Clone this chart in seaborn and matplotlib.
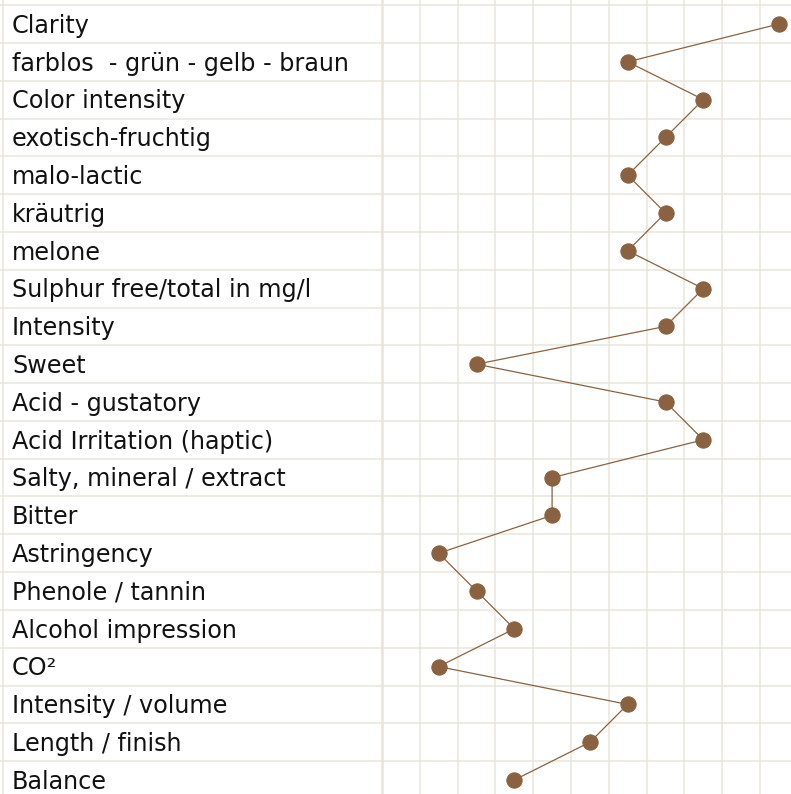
import pandas as pd
import seaborn as sns
import matplotlib
matplotlib.use("Agg")
import matplotlib.pyplot as plt

# tasting profile: attribute names and the scored cell (0 = left-most column)
attributes = [
    "Clarity",
    "farblos  - grün - gelb - braun",
    "Color intensity",
    "exotisch-fruchtig",
    "malo-lactic",
    "kräutrig",
    "melone",
    "Sulphur free/total in mg/l",
    "Intensity",
    "Sweet",
    "Acid - gustatory",
    "Acid Irritation (haptic)",
    "Salty, mineral / extract",
    "Bitter",
    "Astringency",
    "Phenole / tannin",
    "Alcohol impression",
    "CO²",
    "Intensity / volume",
    "Length / finish",
    "Balance",
]
scores = [10, 6, 8, 7, 6, 7, 6, 8, 7, 2, 7, 8, 4, 4, 1, 2, 3, 1, 6, 5, 3]
n_columns = 11

df = pd.DataFrame({"attribute": attributes, "score": scores})
df["row"] = range(len(df))

grid_col = "#e9e5da"
brown = "#8a6240"

sns.set_style("white")
plt.rcParams["font.family"] = ["DejaVu Sans"]

fig = plt.figure(figsize=(7.91, 7.94), dpi=100)
ax = fig.add_axes([0, 0, 1, 1])

# one grid cell = 37.8 px, plot area starts at 382 px
cell = 37.8
left = -382 / cell - 0.5

# table / grid lines
for i in range(len(attributes) + 1):
    ax.axhline(i - 0.5, color=grid_col, lw=1.1, zorder=0)
for k in range(1, n_columns + 1):
    ax.axvline(k - 0.5, color=grid_col, lw=1.1, zorder=0)
ax.axvline(-0.5, color=grid_col, lw=1.8, zorder=0)
ax.axvline(left + 2.5 / cell, color=grid_col, lw=1.1, zorder=0)

for _, r in df.iterrows():
    ax.text(left + 12 / cell, r["row"] - 0.02, r["attribute"],
            va="center_baseline", ha="left", fontsize=17.2, color="#111111")

sns.lineplot(data=df, x="score", y="row", sort=False, estimator=None,
             color=brown, lw=0.9, marker="o", markersize=11,
             markeredgecolor=brown, markerfacecolor=brown, ax=ax, zorder=3)

ax.set_xlim(left, (791 - 382) / cell - 0.5)
ax.set_ylim((794 - 24) / cell, -24 / cell)
ax.set_xlabel("")
ax.set_ylabel("")
ax.set_xticks([])
ax.set_yticks([])
for s in ax.spines.values():
    s.set_visible(False)

fig.savefig("out.png", dpi=100, facecolor="white")
